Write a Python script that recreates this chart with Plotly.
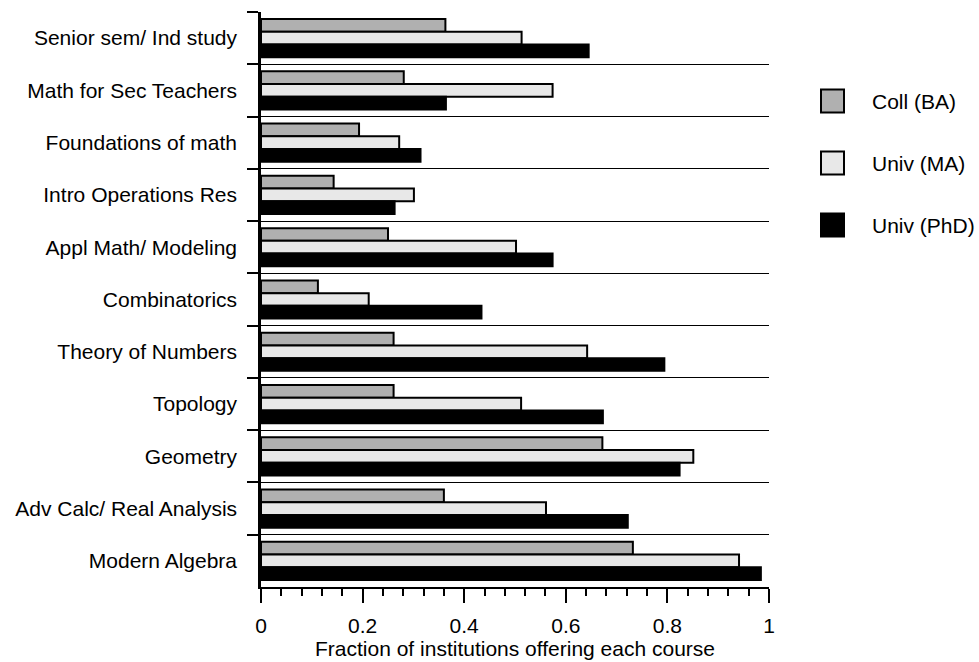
import plotly.graph_objects as go

courses = [
    "Senior sem/ Ind study",
    "Math for Sec Teachers",
    "Foundations of math",
    "Intro Operations Res",
    "Appl Math/ Modeling",
    "Combinatorics",
    "Theory of Numbers",
    "Topology",
    "Geometry",
    "Adv Calc/ Real Analysis",
    "Modern Algebra",
]
coll_ba = [0.363, 0.281, 0.193, 0.143, 0.250, 0.112, 0.261, 0.261, 0.672, 0.360, 0.732]
univ_ma = [0.513, 0.574, 0.272, 0.301, 0.502, 0.212, 0.642, 0.512, 0.851, 0.561, 0.941]
univ_phd = [0.645, 0.364, 0.314, 0.263, 0.574, 0.434, 0.794, 0.673, 0.824, 0.722, 0.984]

series_names = ["Coll (BA)", "Univ (MA)", "Univ (PhD)"]
series_values = [coll_ba, univ_ma, univ_phd]
series_colors = ["#b0b0b0", "#e8e8e8", "#000000"]

FONT = "Liberation Sans, Arial, Helvetica, sans-serif"
FS = 21

fig = go.Figure()
for name, vals, col in zip(series_names, series_values, series_colors):
    fig.add_trace(go.Bar(
        y=courses, x=vals, name=name, orientation="h",
        marker=dict(color=col, line=dict(color="black", width=2)),
        showlegend=False,
    ))

W, H = 979, 662
PL, PR, PT, PB = 261, 769, 12, 587  # plot area in page pixels
L, R, T, B = PL, W - PR, PT, H - PB
pw, ph = PR - PL, PB - PT

def px_x(px):
    return (px - PL) / pw

def px_y(py):
    return (PB - py) / ph

legend_y = [101, 163, 225]
box = 23
for name, col, cy in zip(series_names, series_colors, legend_y):
    fig.add_shape(type="rect", xref="paper", yref="paper",
                  x0=px_x(821), x1=px_x(821 + box),
                  y0=px_y(cy + box / 2), y1=px_y(cy - box / 2),
                  fillcolor=col, line=dict(color="black", width=2))
    fig.add_annotation(xref="paper", yref="paper", x=px_x(870), y=px_y(cy),
                       text=name, showarrow=False, xanchor="left", yanchor="middle",
                       font=dict(family=FONT, size=FS, color="black"))

fig.update_layout(
    width=W, height=H,
    margin=dict(l=L, r=R, t=T, b=B),
    paper_bgcolor="white", plot_bgcolor="white",
    barmode="group", bargap=0.27, bargroupgap=0.0,
    font=dict(family=FONT, size=FS, color="black"),
)
fig.update_xaxes(
    range=[0, 1], dtick=0.2, tick0=0,
    ticks="outside", ticklen=14, tickwidth=1.5, tickcolor="black",
    minor=dict(dtick=0.04, ticks="outside", ticklen=7, tickwidth=1.5, tickcolor="black", showgrid=False),
    showline=True, linecolor="black", linewidth=1.5,
    showgrid=False, zeroline=False,
    tickfont=dict(family=FONT, size=FS),
    title=dict(text="Fraction of institutions offering each course",
               font=dict(family=FONT, size=FS), standoff=5),
    ticklabelstandoff=5,
    automargin=False,
)
fig.update_yaxes(
    type="category", categoryorder="array", categoryarray=courses,
    autorange="reversed",
    tickson="boundaries", ticks="outside", ticklen=11, tickcolor="black", tickwidth=1.5,
    showgrid=True, gridcolor="black", gridwidth=1.3,
    showline=True, linecolor="black", linewidth=2.5,
    zeroline=False,
    tickfont=dict(family=FONT, size=FS),
    ticklabelstandoff=17,
    automargin=False,
)

fig.write_html(
    "out.html",
    config={"displayModeBar": False},
    post_script="document.body.style.margin='0';document.body.style.overflow='hidden';",
)
